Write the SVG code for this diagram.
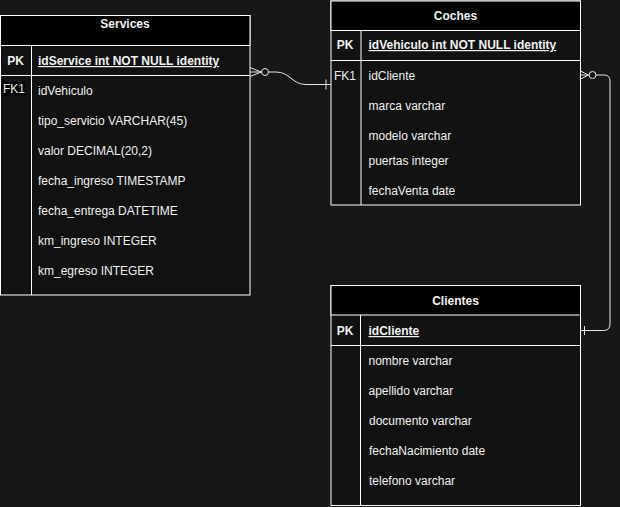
<svg xmlns="http://www.w3.org/2000/svg" width="620" height="507" viewBox="0 0 620 507">
<style>
.hd{fill:#000;stroke:#fff;stroke-width:1}
.bd{fill:#121212;stroke:#fff;stroke-width:1}
.ln{stroke:#fff;stroke-width:1;fill:none}
.t{font-family:"Liberation Sans",Arial,sans-serif;font-size:12px;fill:#f0f0f0}
.b{font-weight:bold}
.c{text-anchor:middle}
.u{text-decoration:underline}
.cn{stroke:#e6e6e6;stroke-width:1;fill:none}
</style>
<rect width="620" height="507" fill="#171717"/>
<g id="services">
<rect class="bd" x="0.5" y="15.5" width="249.5" height="279.5"/>
<rect class="hd" x="0.5" y="15.5" width="249.5" height="30"/>
<text class="t b c" x="125" y="28">Services</text>
<line class="ln" x1="0.5" y1="75.5" x2="250" y2="75.5"/>
<line class="ln" x1="31.5" y1="45.5" x2="31.5" y2="295"/>
<text class="t b c" x="15.5" y="65">PK</text>
<text class="t b u" x="38" y="65">idService int NOT NULL identity</text>
<rect x="1" y="82" width="24" height="14" fill="#000"/>
<text class="t" x="3" y="93">FK1</text>
<text class="t" x="38" y="95">idVehiculo</text>
<text class="t" x="38" y="125">tipo_servicio VARCHAR(45)</text>
<text class="t" x="38" y="155">valor DECIMAL(20,2)</text>
<text class="t" x="38" y="185">fecha_ingreso TIMESTAMP</text>
<text class="t" x="38" y="215">fecha_entrega DATETIME</text>
<text class="t" x="38" y="245">km_ingreso INTEGER</text>
<text class="t" x="38" y="275">km_egreso INTEGER</text>
</g>
<g id="coches">
<rect class="bd" x="331" y="1" width="249.5" height="204"/>
<rect class="hd" x="331" y="1" width="249.5" height="29.5"/>
<text class="t b c" x="455.5" y="20">Coches</text>
<line class="ln" x1="331" y1="60.5" x2="580.5" y2="60.5"/>
<line class="ln" x1="361" y1="30.5" x2="361" y2="205"/>
<text class="t b c" x="345" y="49">PK</text>
<text class="t b u" x="368.5" y="49">idVehiculo int NOT NULL identity</text>
<text class="t" x="334" y="80">FK1</text>
<text class="t" x="368.5" y="80">idCliente</text>
<text class="t" x="368.5" y="110">marca varchar</text>
<text class="t" x="368.5" y="140">modelo varchar</text>
<text class="t" x="368.5" y="165">puertas integer</text>
<text class="t" x="368.5" y="195">fechaVenta date</text>
</g>
<g id="clientes">
<rect class="bd" x="331" y="285.5" width="249.5" height="220"/>
<rect class="hd" x="331" y="285.5" width="249.5" height="29.5"/>
<text class="t b c" x="455.5" y="305">Clientes</text>
<line class="ln" x1="331" y1="345.5" x2="580.5" y2="345.5"/>
<line class="ln" x1="360.5" y1="315" x2="360.5" y2="505.5"/>
<text class="t b c" x="345" y="335">PK</text>
<text class="t b u" x="368.5" y="335">idCliente</text>
<text class="t" x="368.5" y="365">nombre varchar</text>
<text class="t" x="368.5" y="395">apellido varchar</text>
<text class="t" x="369" y="425">documento varchar</text>
<text class="t" x="369" y="455">fechaNacimiento date</text>
<text class="t" x="369" y="485">telefono varchar</text>
</g>
<g id="connectors">
<path class="cn" d="M250 67.5 L261 72 M250 76.5 L261 72 M250 72 L261.5 72"/>
<circle class="cn" cx="265" cy="72" r="3.5"/>
<path class="cn" d="M268.5 72 L276 72 C290 72 292 84.5 306 84.5 L331 84.5"/>
<path class="cn" d="M326 79.5 L326 89.5"/>
<path class="cn" d="M580.5 71 L588.5 75 M580.5 79 L588.5 75 M580.5 75 L588.5 75"/>
<circle class="cn" cx="592.5" cy="75" r="3.5"/>
<path class="cn" d="M596 75 L604 75 Q610 75 610 81 L610 324 Q610 330.5 603.5 330.5 L580.5 330.5"/>
<path class="cn" d="M584.5 326 L584.5 335"/>
</g>
</svg>
